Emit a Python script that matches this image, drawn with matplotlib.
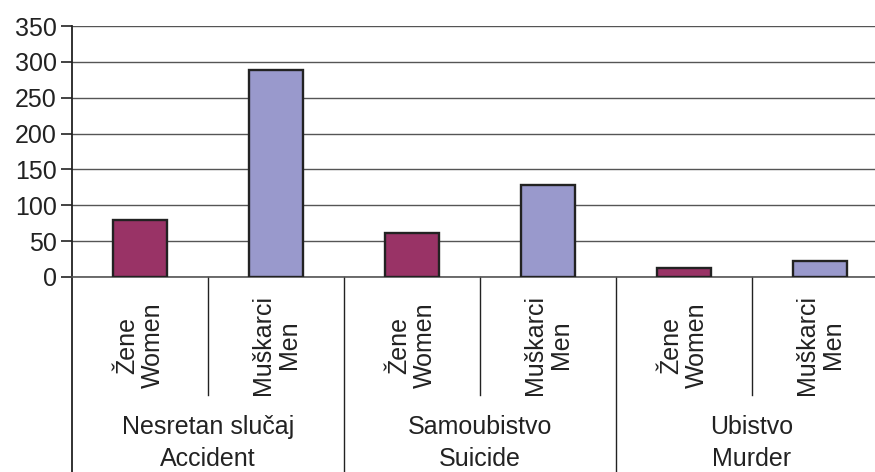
import matplotlib
matplotlib.use("Agg")
import matplotlib.pyplot as plt

plt.rcParams['font.family'] = ['Liberation Sans', 'DejaVu Sans']

groups = ["Nesretan slučaj\nAccident", "Samoubistvo\nSuicide", "Ubistvo\nMurder"]
subs = ["Žene\nWomen", "Muškarci\nMen"]
women = [79, 62, 13]
men = [288, 128, 22]
yticks = [0, 50, 100, 150, 200, 250, 300, 350]

W, H = 875, 472
fig = plt.figure(figsize=(W / 100, H / 100), dpi=100)
left, right, top, zero = 72, 888, 26, 277
ax = fig.add_axes([left / W, (H - zero) / H, (right - left) / W, (zero - top) / H])

c_w = "#993366"
c_m = "#9999cc"
xs, vals, cols = [], [], []
for i in range(len(groups)):
    xs += [2 * i, 2 * i + 1]
    vals += [women[i], men[i]]
    cols += [c_w, c_m]
ax.bar(xs, vals, width=0.4, color=cols, edgecolor="#222222", linewidth=1.7, zorder=3)

FS = 18
ax.set_xlim(-0.5, 5.5)
ax.set_ylim(0, 350)
ax.set_yticks(yticks)
ax.set_yticklabels([str(t) for t in yticks], fontsize=FS, color="#222222")
ax.tick_params(axis="y", length=8, width=1.2, color="#222222", pad=3)
ax.set_xticks([])
ax.grid(axis="y", color="#555555", linewidth=1.0, zorder=0)
for s in ["top", "right"]:
    ax.spines[s].set_visible(False)
ax.spines["left"].set_color("#222222")
ax.spines["left"].set_linewidth(1.3)
ax.spines["bottom"].set_color("#555555")
ax.spines["bottom"].set_linewidth(1.2)

tr = ax.get_xaxis_transform()
ah = zero - top
short_y = (zero - 395) / ah
full_y = (zero - 480) / ah
ax.plot([-0.5, -0.5], [0, full_y], transform=tr, color="#222222", lw=1.3, clip_on=False)
for x in [0.5, 2.5, 4.5]:
    ax.plot([x, x], [0, short_y], transform=tr, color="#222222", lw=1.0, clip_on=False)
for x in [1.5, 3.5]:
    ax.plot([x, x], [0, full_y], transform=tr, color="#222222", lw=1.0, clip_on=False)

sub_y = (zero - 345) / ah
grp_y = (zero - 443) / ah
for i, g in enumerate(groups):
    for j, s in enumerate(subs):
        ax.text(2 * i + j, sub_y, s, transform=tr, rotation=90, ha="center", va="center",
                multialignment="center", fontsize=FS, color="#222222", linespacing=1.1)
    ax.text(2 * i + 0.5, grp_y, g, transform=tr, ha="center", va="center",
            multialignment="center", fontsize=FS, color="#222222", linespacing=1.4)

fig.savefig("out.png", dpi=100)
